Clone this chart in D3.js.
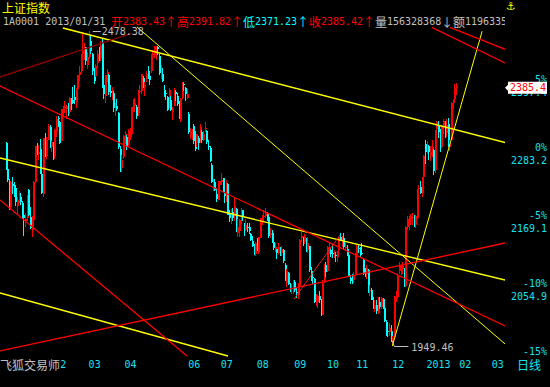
<!DOCTYPE html>
<html>
<head>
<meta charset="utf-8">
<script src="https://cdn.jsdelivr.net/npm/d3@7"></script>
<style>
body { margin: 0; background: #000; }
svg { display: block; }
</style>
</head>
<body>
<div id="chart"></div>
<script>
var width = 550;
var height = 387;

// trading days shown, Shanghai composite (1A0001), daily
var dates = [
	"2011-12-13","2011-12-14","2011-12-15","2011-12-16","2011-12-19","2011-12-20","2011-12-21","2011-12-22","2011-12-23","2011-12-26","2011-12-27","2011-12-28","2011-12-29","2011-12-30",
	"2012-01-04","2012-01-05","2012-01-06","2012-01-09","2012-01-10","2012-01-11","2012-01-12","2012-01-13","2012-01-16","2012-01-17","2012-01-18","2012-01-19","2012-01-20","2012-01-30","2012-01-31",
	"2012-02-01","2012-02-02","2012-02-03","2012-02-06","2012-02-07","2012-02-08","2012-02-09","2012-02-10","2012-02-13","2012-02-14","2012-02-15","2012-02-16","2012-02-17","2012-02-20","2012-02-21","2012-02-22","2012-02-23","2012-02-24","2012-02-27","2012-02-28","2012-02-29",
	"2012-03-01","2012-03-02","2012-03-05","2012-03-06","2012-03-07","2012-03-08","2012-03-09","2012-03-12","2012-03-13","2012-03-14","2012-03-15","2012-03-16","2012-03-19","2012-03-20","2012-03-21","2012-03-22","2012-03-23","2012-03-26","2012-03-27","2012-03-28","2012-03-29","2012-03-30",
	"2012-04-05","2012-04-06","2012-04-09","2012-04-10","2012-04-11","2012-04-12","2012-04-13","2012-04-16","2012-04-17","2012-04-18","2012-04-19","2012-04-20","2012-04-23","2012-04-24","2012-04-25","2012-04-26","2012-04-27",
	"2012-05-02","2012-05-03","2012-05-04","2012-05-07","2012-05-08","2012-05-09","2012-05-10","2012-05-11","2012-05-14","2012-05-15","2012-05-16","2012-05-17","2012-05-18","2012-05-21","2012-05-22","2012-05-23","2012-05-24","2012-05-25","2012-05-28","2012-05-29","2012-05-30","2012-05-31",
	"2012-06-01","2012-06-04","2012-06-05","2012-06-06","2012-06-07","2012-06-08","2012-06-11","2012-06-12","2012-06-13","2012-06-14","2012-06-15","2012-06-18","2012-06-19","2012-06-20","2012-06-21","2012-06-25","2012-06-26","2012-06-27","2012-06-28","2012-06-29",
	"2012-07-02","2012-07-03","2012-07-04","2012-07-05","2012-07-06","2012-07-09","2012-07-10","2012-07-11","2012-07-12","2012-07-13","2012-07-16","2012-07-17","2012-07-18","2012-07-19","2012-07-20","2012-07-23","2012-07-24","2012-07-25","2012-07-26","2012-07-27","2012-07-30","2012-07-31",
	"2012-08-01","2012-08-02","2012-08-03","2012-08-06","2012-08-07","2012-08-08","2012-08-09","2012-08-10","2012-08-13","2012-08-14","2012-08-15","2012-08-16","2012-08-17","2012-08-20","2012-08-21","2012-08-22","2012-08-23","2012-08-24","2012-08-27","2012-08-28","2012-08-29","2012-08-30","2012-08-31",
	"2012-09-03","2012-09-04","2012-09-05","2012-09-06","2012-09-07","2012-09-10","2012-09-11","2012-09-12","2012-09-13","2012-09-14","2012-09-17","2012-09-18","2012-09-19","2012-09-20","2012-09-21","2012-09-24","2012-09-25","2012-09-26","2012-09-27","2012-09-28",
	"2012-10-08","2012-10-09","2012-10-10","2012-10-11","2012-10-12","2012-10-15","2012-10-16","2012-10-17","2012-10-18","2012-10-19","2012-10-22","2012-10-23","2012-10-24","2012-10-25","2012-10-26","2012-10-29","2012-10-30","2012-10-31",
	"2012-11-01","2012-11-02","2012-11-05","2012-11-06","2012-11-07","2012-11-08","2012-11-09","2012-11-12","2012-11-13","2012-11-14","2012-11-15","2012-11-16","2012-11-19","2012-11-20","2012-11-21","2012-11-22","2012-11-23","2012-11-26","2012-11-27","2012-11-28","2012-11-29","2012-11-30",
	"2012-12-03","2012-12-04","2012-12-05","2012-12-06","2012-12-07","2012-12-10","2012-12-11","2012-12-12","2012-12-13","2012-12-14","2012-12-17","2012-12-18","2012-12-19","2012-12-20","2012-12-21","2012-12-24","2012-12-25","2012-12-26","2012-12-27","2012-12-28","2012-12-31",
	"2013-01-04","2013-01-07","2013-01-08","2013-01-09","2013-01-10","2013-01-11","2013-01-14","2013-01-15","2013-01-16","2013-01-17","2013-01-18","2013-01-21","2013-01-22","2013-01-23","2013-01-24","2013-01-25","2013-01-28","2013-01-29","2013-01-30","2013-01-31"
];

var open = [
	2291,2246,2225,2183,2221,2216,2215,2184,2196,2200,2190,2169,2160,2164,
	2212,2166,2145,2161,2225,2280,2272,2280,2239,2205,2297,2268,2296,2318,2283,
	2290,2268,2310,2332,2325,2293,2345,2350,2347,2348,2343,2362,2363,2368,2360,2381,2404,2411,2440,2443,2451,
	2422,2434,2462,2440,2405,2403,2424,2439,2433,2458,2387,2370,2398,2405,2378,2375,2375,2345,2353,2340,2280,2249,
	2266,2299,2300,2287,2300,2306,2350,2353,2351,2340,2377,2378,2400,2385,2397,2409,2402,
	2411,2439,2438,2445,2452,2437,2400,2407,2380,2375,2367,2350,2362,2342,2353,2376,2369,2356,2329,2366,2390,2383,
	2366,2339,2303,2306,2319,2299,2291,2299,2292,2309,2295,2313,2311,2285,2282,2254,2222,2224,2205,2195,
	2220,2224,2231,2207,2200,2222,2172,2160,2175,2167,2180,2139,2143,2161,2178,2154,2145,2150,2149,2138,2125,2115,
	2104,2121,2108,2131,2163,2167,2167,2173,2166,2136,2139,2124,2113,2112,2105,2113,2106,2110,2086,2056,2072,2050,2045,
	2046,2057,2040,2035,2050,2130,2131,2124,2130,2110,2117,2075,2066,2062,2023,2023,2033,2026,2002,2057,
	2085,2076,2114,2111,2106,2100,2102,2099,2110,2132,2122,2131,2114,2113,2102,2063,2061,2060,
	2070,2103,2114,2109,2106,2094,2070,2071,2077,2041,2043,2024,2011,2019,2005,2024,2015,2029,2014,1989,1975,1973,
	1975,1953,1965,2030,2031,2076,2081,2079,2080,2050,2150,2159,2163,2165,2162,2152,2165,2213,2216,2206,2234,
	2289,2275,2286,2271,2277,2278,2245,2313,2320,2313,2283,2318,2326,2307,2322,2283,2295,2359,2364,2383.43
];

var high = [
	2292,2253,2230,2226,2233,2225,2220,2200,2210,2207,2193,2178,2172,2203,
	2213,2183,2168,2226,2285,2291,2287,2297,2252,2299,2307,2301,2322,2320,2294,
	2292,2313,2336,2336,2328,2348,2352,2361,2354,2357,2368,2366,2384,2387,2382,2404,2419,2440,2476,2459,2452,
	2443,2478.38,2471,2441,2417,2423,2446,2451,2461,2467,2397,2405,2415,2406,2388,2385,2377,2357,2364,2343,2285,2270,
	2303,2310,2304,2313,2316,2351,2365,2366,2354,2380,2387,2407,2403,2393,2411,2420,2411,
	2439,2446,2453.7,2454,2453,2440,2421,2417,2387,2379,2369,2383,2370,2350,2382,2379,2375,2361,2366,2393,2392,2384,
	2381,2342,2316,2313,2322,2311,2306,2302,2322,2312,2310,2325,2312,2295,2285,2256,2230,2230,2215,2226,
	2227,2240,2232,2209,2229,2223,2178,2180,2182,2198,2181,2162,2163,2182,2178,2156,2163,2156,2156,2139,2135,2121,
	2124,2131,2133,2165,2169,2178,2181,2175,2167,2148,2144,2131,2123,2113,2122,2116,2118,2112,2089,2078,2073,2056,2054,
	2060,2060,2048,2055,2129,2141,2133,2138,2131,2133,2118,2082,2072,2063,2036,2035,2042,2028,2060,2087,
	2091,2117,2123,2114,2121,2110,2107,2109,2133,2140,2134,2139,2124,2119,2106,2069,2071,2074,
	2105,2119,2119,2115,2122,2095,2081,2085,2078,2052,2047,2032,2026,2027,2031,2031,2032,2030,2018,1993,1980,1988,
	1984,1967,2033,2042,2072,2090,2087,2090,2081,2151,2167,2168,2171,2173,2170,2169,2213,2219,2226,2233,2270,
	2295,2293,2287,2286,2296,2280,2312,2327,2327,2314,2320,2330,2328,2330,2332,2296,2359,2364,2389,2391.82
];

var low = [
	2245,2224,2178,2177,2205,2199,2185,2171,2189,2186,2165,2134,2149,2160,
	2168,2146,2132.63,2148,2223,2270,2262,2238,2204,2199,2266,2264,2296,2282,2275,
	2262,2264,2300,2318,2288,2293,2336,2340,2330,2336,2339,2345,2356,2355,2349,2375,2395,2406,2437,2430,2422,
	2415,2432,2440,2404,2390,2401,2416,2428,2428,2383,2365,2358,2393,2371,2367,2363,2342,2335,2344,2281,2242,2242,
	2263,2289,2279,2284,2296,2302,2343,2343,2330,2336,2366,2373,2382,2370,2392,2398,2387,
	2408,2430,2433,2430,2438,2404,2397,2392,2368,2362,2344,2349,2344,2329,2352,2361,2353,2330,2325,2365,2378,2361,
	2364,2306,2297,2296,2289,2277,2284,2279,2291,2291,2293,2308,2288,2278,2259,2223,2210,2209,2192,2194,
	2209,2219,2208,2190,2191,2169,2158,2155,2160,2159,2141,2133,2132,2155,2160,2135,2142,2141,2137,2125,2116,2102,
	2100,2109,2104,2130,2152,2160,2164,2160,2131,2131,2122,2111,2107,2095,2102,2101,2100,2089,2059,2049,2052,2040,2037,
	2037,2040,2030,2029,2047,2124,2117,2120,2107,2106,2074,2058,2054,2022,2016,2014,2022,1999,2001,2055,
	2066,2073,2104,2099,2097,2097,2090,2091,2106,2126,2116,2113,2110,2101,2065,2053,2053,2056,
	2068,2097,2105,2099,2103,2068,2066,2062,2039,2033,2026,2011,2006,2004,2003,2012,2011,2012,1989,1967,1965,1966,
	1956,1949.46,1962,2024,2028,2071,2069,2070,2048,2049,2145,2145,2153,2152,2150,2148,2162,2204,2204,2200,2233,
	2255,2272,2262,2260,2267,2237,2240,2301,2299,2276,2282,2305,2298,2300,2284,2277,2295,2347,2357,2371.23
];

var close = [
	2249,2228,2180,2224,2218,2215,2191,2195,2204,2191,2170,2164,2163,2199,
	2169,2148,2163,2225,2285,2276,2276,2244,2206,2298,2266,2295,2319,2285,2292,
	2268,2312,2330,2331,2291,2347,2350,2351,2352,2345,2366,2357,2357,2363,2381,2404,2410,2439,2447,2451,2428,
	2434,2460,2445,2411,2394,2420,2439,2436,2455,2391,2373,2404,2410,2376,2375,2380,2349,2350,2347,2284,2252,2262,
	2302,2306,2286,2311,2309,2350,2359,2357,2335,2380,2378,2406,2388,2388,2406,2404,2396,
	2438,2440,2452,2451,2448,2408,2411,2394,2376,2374,2346,2379,2345,2348,2378,2373,2356,2334,2364,2391,2389,2373,
	2373,2309,2308,2309,2294,2281,2305,2290,2318,2296,2306,2316,2292,2283,2260,2225,2223,2211,2196,2225,
	2227,2229,2209,2201,2223,2170,2164,2175,2165,2185,2145,2150,2161,2175,2168,2142,2153,2149,2143,2128,2117,2103,
	2123,2110,2132,2164,2169,2168,2174,2168,2135,2140,2125,2114,2115,2106,2116,2105,2113,2092,2060,2076,2054,2047,2047,
	2059,2043,2038,2052,2128,2134,2123,2132,2109,2123,2077,2061,2064,2024,2027,2033,2027,2004,2056,2086,
	2074,2115,2115,2104,2104,2103,2100,2106,2132,2128,2133,2115,2115,2102,2066,2059,2059,2068,
	2104,2117,2113,2106,2105,2071,2069,2081,2041,2044,2027,2014,2018,2009,2029,2015,2030,2018,1991,1973,1974,1980,
	1959,1963,2031,2032,2067,2083,2082,2083,2051,2150,2163,2162,2167,2166,2153,2168,2212,2215,2206,2233,2269,
	2276,2285,2276,2276,2283,2243,2311,2325,2309,2284,2317,2328,2315,2321,2294,2291,2358,2361,2382,2385.42
];

var lastVolume = "156328368";
var lastAmount = "11963354";

// month labels on the time axis (the software projects 20 days per month past the last bar)
var monthLabels = ["02", "03", "04", "06", "07", "08", "09", "10", "11", "12", "2013", "02", "03"];
var monthStarts = ["2012-02-01", "2012-03-01", "2012-04-05", "2012-06-01", "2012-07-02", "2012-08-01", "2012-09-03", "2012-10-08", "2012-11-01", "2012-12-03", "2013-01-04", "2013-02-01", "2013-03-01"];
var projectedDays = {"2013-02-01": 1, "2013-03-01": 21};

// percent scale on the right, relative to the base price
var basePrice = 2283.23;
var pctLevels = [5, 0, -5, -10, -15];

// hand drawn trend lines: [day index, price] at each end
var trendKinds = ["yellow", "yellowThin", "yellow", "yellow", "yellowThin", "red", "red", "red", "darkred", "red", "red", "redThin"];
var trendFrom = [[35.2, 2483.4], [80.6, 2485.1], [-3.37, 2265.1], [-3.37, 2038.5], [237, 1949.46], [261.2, 2484.5], [272.4, 2484.5], [-3.37, 2386.0], [-3.37, 2401.1], [-3.37, 2194.6], [-3.37, 1941.1], [176.8, 2028.4]];
var trendTo = [[306.1, 2291.2], [306.1, 1952.8], [306.1, 2060.3], [136.3, 1932.7], [292.0, 2478.0], [306.1, 2424.6], [306.1, 2447.7], [306.1, 1983.0], [77.5, 2475.0], [111.2, 1932.6], [306.1, 2122.4], [204.97, 2135.8]];

var trendStyle = {
	yellow: {color: "#ffff00", w: 1.4},
	yellowThin: {color: "#ffff00", w: 1},
	red: {color: "#ff0000", w: 1.3},
	redThin: {color: "#ff2020", w: 0.9},
	darkred: {color: "#8c0000", w: 1.3}
};

var upColor = "#ff0000";
var downColor = "#00ffff";
var axisColor = "#18e0f0";
var gray = "#c0c0c0";
var asciiFont = "'DejaVu Sans Mono', 'Liberation Mono', monospace";
var cjkFont = "'Noto Sans CJK SC', sans-serif";

var svg = d3.select("#chart").append("svg")
	.attr("width", width)
	.attr("height", height)
	.style("background", "#000");

var N = dates.length;
var x = d3.scaleLinear().domain([0, N - 1]).range([5.5, 456]);
var y = d3.scaleLinear().domain([1949.46, 2478.38]).range([346, 31]);

svg.append("clipPath").attr("id", "plot-clip")
	.append("rect").attr("x", 0).attr("y", 14).attr("width", 505).attr("height", 343);
// month labels left of x=60 sit under the software name
svg.append("clipPath").attr("id", "month-clip")
	.append("rect").attr("x", 60).attr("y", 356).attr("width", 450).attr("height", 16);

// ---- right axis: percent and price ----
var axis = svg.append("g");
pctLevels.forEach(function(p) {
	var price = basePrice * (1 + p / 100);
	var yy = y(price);
	axis.append("text")
		.attr("x", 547).attr("y", yy)
		.attr("text-anchor", "end")
		.attr("dominant-baseline", "central")
		.style("font-family", asciiFont).style("font-size", "10px")
		.attr("fill", axisColor)
		.text(p + "%");
	if (yy + 13 < 356) {
		axis.append("text")
			.attr("x", 547).attr("y", yy + 13)
			.attr("text-anchor", "end")
			.attr("dominant-baseline", "central")
			.style("font-family", asciiFont).style("font-size", "10px")
			.attr("fill", axisColor)
			.text(price.toFixed(1));
	}
});

// ---- time axis ----
function dayIndex(d) {
	var i = dates.indexOf(d);
	if (i >= 0) return i;
	return N - 1 + projectedDays[d];
}

svg.append("g").attr("clip-path", "url(#month-clip)")
	.selectAll("text")
	.data(monthLabels)
	.enter()
	.append("text")
	.attr("x", function(d, i) { return x(dayIndex(monthStarts[i])) + 1.5; })
	.attr("y", 364)
	.attr("dominant-baseline", "central")
	.style("font-family", asciiFont).style("font-size", "10px")
	.attr("fill", axisColor)
	.text(function(d) { return d; });

// ---- candles ----
var plot = svg.append("g").attr("clip-path", "url(#plot-clip)");
var candles = plot.append("g").selectAll("g")
	.data(dates)
	.enter()
	.append("g")
	.attr("fill", function(d, i) { return close[i] >= open[i] ? upColor : downColor; })
	.attr("stroke", function(d, i) { return close[i] >= open[i] ? upColor : downColor; });

candles.append("line")
	.attr("shape-rendering", "crispEdges")
	.attr("x1", function(d, i) { return Math.round(x(i)) + 0.5; })
	.attr("x2", function(d, i) { return Math.round(x(i)) + 0.5; })
	.attr("y1", function(d, i) { return y(high[i]); })
	.attr("y2", function(d, i) { return y(low[i]); })
	.attr("stroke-width", 1);

candles.append("rect")
	.attr("shape-rendering", "crispEdges")
	.attr("stroke", "none")
	.attr("x", function(d, i) { return Math.round(x(i)); })
	.attr("width", 2)
	.attr("y", function(d, i) { return y(Math.max(open[i], close[i])); })
	.attr("height", function(d, i) { return Math.max(1, y(Math.min(open[i], close[i])) - y(Math.max(open[i], close[i]))); });

// ---- trend lines ----
plot.append("g").selectAll("line")
	.data(trendKinds)
	.enter()
	.append("line")
	.attr("x1", function(d, i) { return x(trendFrom[i][0]); })
	.attr("y1", function(d, i) { return y(trendFrom[i][1]); })
	.attr("x2", function(d, i) { return x(trendTo[i][0]); })
	.attr("y2", function(d, i) { return y(trendTo[i][1]); })
	.attr("stroke", function(d) { return trendStyle[d].color; })
	.attr("stroke-width", function(d) { return trendStyle[d].w; });

// ---- high / low marks ----
var hiIdx = d3.maxIndex(high);
var loIdx = d3.minIndex(low);

svg.append("line")
	.attr("x1", x(hiIdx) + 4).attr("x2", x(hiIdx) + 12)
	.attr("y1", Math.round(y(high[hiIdx])) + 0.5).attr("y2", Math.round(y(high[hiIdx])) + 0.5)
	.attr("stroke", gray);
svg.append("text")
	.attr("x", x(hiIdx) + 13).attr("y", y(high[hiIdx]))
	.attr("dominant-baseline", "central")
	.style("font-family", asciiFont).style("font-size", "10px")
	.attr("fill", gray)
	.text(high[hiIdx].toFixed(2));

svg.append("path")
	.attr("d", "M" + x(loIdx) + "," + (y(low[loIdx]) - 5) + "L" + (x(loIdx) + 2) + "," + (y(low[loIdx]) + 0.5) + "L" + (x(loIdx) + 16) + "," + (y(low[loIdx]) + 0.5))
	.attr("fill", "none")
	.attr("stroke", gray);
svg.append("text")
	.attr("x", x(loIdx) + 19).attr("y", y(low[loIdx]) + 1)
	.attr("dominant-baseline", "central")
	.style("font-family", asciiFont).style("font-size", "10px")
	.attr("fill", gray)
	.text(low[loIdx].toFixed(2));

// ---- last price tag ----
var last = N - 1;
var ty = y(close[last]) + 1.5;
svg.append("path")
	.attr("d", "M505," + ty + "L508," + (ty - 3) + "L508," + (ty - 6) + "L547," + (ty - 6) + "L547," + (ty + 6) + "L508," + (ty + 6) + "L508," + (ty + 3) + "Z")
	.attr("fill", "#ffffff");
svg.append("text")
	.attr("x", 510).attr("y", ty)
	.attr("dominant-baseline", "central")
	.style("font-family", asciiFont).style("font-size", "10px")
	.attr("fill", "#ff0000")
	.text(close[last].toFixed(1));

// ---- header ----
function textWidth(s) {
	var w = 0;
	for (var k = 0; k < s.length; k++) {
		w += s.charCodeAt(k) > 0x2000 ? 12 : 6;
	}
	return w;
}

function drawRun(g, x0, yc, parts) {
	var cx = x0;
	parts.forEach(function(p) {
		var wide = p.text.charCodeAt(0) > 0x2000;
		g.append("text")
			.attr("x", cx).attr("y", yc)
			.attr("dominant-baseline", "central")
			.style("font-family", wide ? cjkFont : asciiFont)
			.style("font-size", wide ? "12px" : "10px")
			.attr("fill", p.color)
			.text(p.text);
		cx += textWidth(p.text);
	});
}

svg.append("clipPath").attr("id", "head-clip")
	.append("rect").attr("x", 0).attr("y", 0).attr("width", 505).attr("height", 30);

svg.append("text")
	.attr("x", 2).attr("y", 7)
	.attr("dominant-baseline", "central")
	.style("font-family", cjkFont).style("font-size", "12px")
	.attr("fill", "#ffff00")
	.text("上证指数");

var head = svg.append("g").attr("clip-path", "url(#head-clip)");
drawRun(head, 3, 21, [
	{text: "1A0001 " + dates[last].replace(/-/g, "/") + " ", color: gray},
	{text: "开", color: "#ff0000"}, {text: open[last].toFixed(2), color: "#ff0000"}, {text: "↑", color: "#ff0000"},
	{text: "高", color: "#ff0000"}, {text: high[last].toFixed(2), color: "#ff0000"}, {text: "↑", color: "#ff0000"},
	{text: "低", color: "#00ffff"}, {text: low[last].toFixed(2), color: "#00ffff"}, {text: "↑", color: "#00ffff"},
	{text: "收", color: "#ff0000"}, {text: close[last].toFixed(2), color: "#ff0000"}, {text: "↑", color: "#ff0000"},
	{text: "量", color: gray}, {text: lastVolume, color: gray}, {text: "↓", color: gray},
	{text: "额", color: gray}, {text: lastAmount, color: gray}
]);

svg.append("text")
	.attr("x", 511).attr("y", 6)
	.attr("text-anchor", "middle")
	.attr("dominant-baseline", "central")
	.style("font-family", "'DejaVu Sans'").style("font-size", "11px")
	.attr("fill", "#ffff00")
	.text("⚓");

// ---- footer ----
svg.append("text")
	.attr("x", 0).attr("y", 364)
	.attr("dominant-baseline", "central")
	.style("font-family", cjkFont).style("font-size", "12px")
	.attr("fill", gray)
	.text("飞狐交易师");
svg.append("text")
	.attr("x", 517).attr("y", 364)
	.attr("dominant-baseline", "central")
	.style("font-family", cjkFont).style("font-size", "12px")
	.attr("fill", axisColor)
	.text("日线");
</script>
</body>
</html>
